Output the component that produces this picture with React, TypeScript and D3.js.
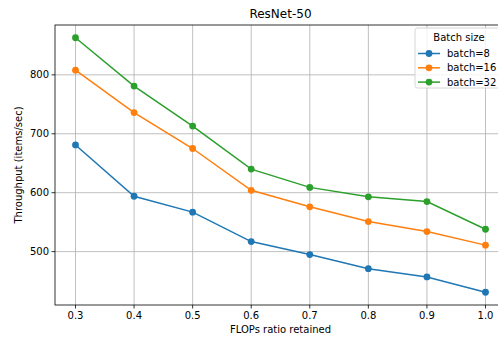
import React from "react"
import * as d3 from "d3"

const ratios = [0.3, 0.4, 0.5, 0.6, 0.7, 0.8, 0.9, 1.0]
const batch8 = [681, 594, 567, 517, 495, 471, 457, 431]
const batch16 = [808, 736, 675, 604, 576, 551, 534, 511]
const batch32 = [863, 781, 713, 640, 609, 593, 585, 538]
const seriesNames = ["batch=8", "batch=16", "batch=32"]
const colors = ["#1f77b4", "#ff7f0e", "#2ca02c"]
const yTicks = [500, 600, 700, 800]

const W = 498, H = 337
const margin = {top: 25, right: -8, bottom: 32, left: 55}
const font = "DejaVu Sans, sans-serif"

const App = () => {
    const series = [batch8, batch16, batch32]
    const all = series.flat()
    const yMin = d3.min(all)!, yMax = d3.max(all)!
    const yPad = (yMax - yMin) * 0.05
    const xPad = (ratios[ratios.length - 1] - ratios[0]) * 0.05

    const x = d3.scaleLinear()
        .domain([ratios[0] - xPad, ratios[ratios.length - 1] + xPad])
        .range([margin.left, W - margin.right])
    const y = d3.scaleLinear()
        .domain([yMin - yPad, yMax + yPad])
        .range([H - margin.bottom, margin.top])

    const line = d3.line<number>()
        .x((_, i) => x(ratios[i]))
        .y(d => y(d))

    const left = margin.left, right = W - margin.right
    const top = margin.top, bottom = H - margin.bottom

    return (
        <svg width={W} height={H} style={{position: "absolute", left: 0, top: 0, background: "#fff"}} fontFamily={font}>
            <rect x={0} y={0} width={W} height={H} fill="#fff" />
            {/* grid */}
            {ratios.map(r => (
                <line key={"gx" + r} x1={x(r)} x2={x(r)} y1={top} y2={bottom} stroke="#b0b0b0" strokeWidth={0.8} />
            ))}
            {yTicks.map(t => (
                <line key={"gy" + t} x1={left} x2={right} y1={y(t)} y2={y(t)} stroke="#b0b0b0" strokeWidth={0.8} />
            ))}
            {/* series */}
            {series.map((s, k) => (
                <g key={k}>
                    <path d={line(s)!} fill="none" stroke={colors[k]} strokeWidth={1.5} />
                    {s.map((v, i) => (
                        <circle key={i} cx={x(ratios[i])} cy={y(v)} r={3.4} fill={colors[k]} />
                    ))}
                </g>
            ))}
            {/* spines */}
            <rect x={left} y={top} width={right - left} height={bottom - top} fill="none" stroke="#000" strokeWidth={0.8} />
            {/* x ticks */}
            {ratios.map(r => (
                <g key={"xt" + r}>
                    <line x1={x(r)} x2={x(r)} y1={bottom} y2={bottom + 3.5} stroke="#000" strokeWidth={0.8} />
                    <text x={x(r)} y={bottom + 14} textAnchor="middle" fontSize={10}>{r.toFixed(1)}</text>
                </g>
            ))}
            {yTicks.map(t => (
                <g key={"yt" + t}>
                    <line x1={left - 3.5} x2={left} y1={y(t)} y2={y(t)} stroke="#000" strokeWidth={0.8} />
                    <text x={left - 6} y={y(t) + 3.5} textAnchor="end" fontSize={10}>{t}</text>
                </g>
            ))}
            <text x={(left + right) / 2} y={bottom + 28} textAnchor="middle" fontSize={10}>FLOPs ratio retained</text>
            <text transform={`translate(${22},${(top + bottom) / 2}) rotate(-90)`} textAnchor="middle" fontSize={10}>Throughput (items/sec)</text>
            <text x={(left + right) / 2} y={top - 7} textAnchor="middle" fontSize={12}>ResNet-50</text>
            {/* legend */}
            <g>
                <rect x={415} y={28} width={100} height={60} rx={2.5} fill="#fff" fillOpacity={0.8} stroke="#cccccc" strokeWidth={0.8} />
                <text x={459} y={40.5} textAnchor="middle" fontSize={10}>Batch size</text>
                {seriesNames.map((n, k) => (
                    <g key={n}>
                        <line x1={418} x2={440} y1={53.5 + k * 14.3} y2={53.5 + k * 14.3} stroke={colors[k]} strokeWidth={1.5} />
                        <circle cx={429} cy={53.5 + k * 14.3} r={3.4} fill={colors[k]} />
                        <text x={447} y={57 + k * 14.3} fontSize={10}>{n}</text>
                    </g>
                ))}
            </g>
        </svg>
    )
}

export default App
